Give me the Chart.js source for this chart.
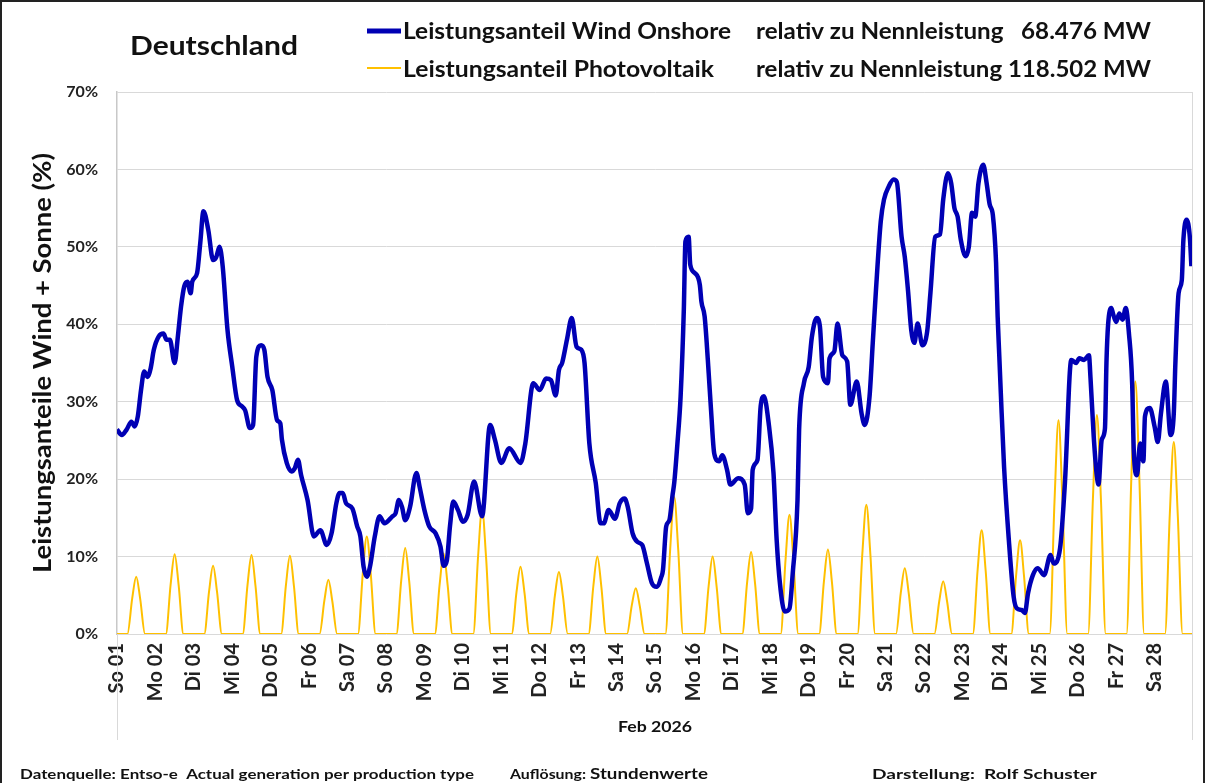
<!DOCTYPE html>
<html><head><meta charset="utf-8">
<script src="https://cdn.jsdelivr.net/npm/chart.js@4.4.1/dist/chart.umd.min.js"></script>
<style>html,body{margin:0;padding:0;background:#fff}#wrap{width:1205px;height:783px;position:relative}</style>
</head><body><div id="wrap"><canvas id="c" width="1205" height="783"></canvas></div>
<script>
const dayLabels = ['So 01','Mo 02','Di 03','Mi 04','Do 05','Fr 06','Sa 07','So 08','Mo 09','Di 10','Mi 11','Do 12','Fr 13','Sa 14','So 15','Mo 16','Di 17','Mi 18','Do 19','Fr 20','Sa 21','So 22','Mo 23','Di 24','Mi 25','Do 26','Fr 27','Sa 28'];
const yTicks = [0,10,20,30,40,50,60,70];

// Wind onshore share (%), hour of month -> value
const windHour = [0,3,6,9,11,13,15,17,19,21,23,26,29,31,33,36,38,40,42,44,46,47,50,52,54,57,60,62,64,66,69,72,75,78,80,83,85,87,90,92,94,97,100,102,103,106,109,111,113,115,119,123,127,131,134,137,139,141,143,147,150,152,154,156,158,161,164,167,172,174,176,178,180,183,187,189,192,195,199,202,204,206,208,210,213,216,219,223,228,233,236,240,245,252,255,260,264,268,271,274,276,278,281,284,287,290,292,295,299,302,304,307,311,314,317,319,322,325,328,331,334,337,340,341,343,345,347,348,350,352,354,355,357,358,361,364,365,367,369,371,373,376,378,381,383,388,392,394,396,397,400,402,404,407,410,412,414,417,420,422,425,426,429,432,434,437,439,441,444,445,448,450,453,456,458,462,465,467,470,472,474,477,479,482,485,487,490,492,494,496,498,500,503,506,508,511,514,516,519,521,523,525,527,530,532,534,536,538,541,543,545,547,549,550,551,552,554,557,560,562,565,567,569,572,575,579,583,585,589,592,596,599,601,604,607,608,610,612,613,615,617,618,619,621,622,624,626,628,630,632,634,635,637,639,641,642,645,648,650,652,655,658,660,661,663,665,666,668,670,671];
const windValue = [26.4,25.7,26.4,27.4,26.8,28.1,31.5,33.9,33.2,34.3,36.7,38.4,38.8,38.0,38.0,35.0,38.4,42.3,44.9,45.5,44.0,45.5,46.6,50.5,54.6,52.2,48.3,48.7,50.0,47.5,39.3,34.5,30.2,29.4,28.9,26.6,27.0,35.8,37.3,36.7,33.2,31.5,27.6,27.2,25.1,22.1,21.0,21.4,22.5,20.5,17.3,12.6,13.4,11.5,13.0,16.9,18.2,18.2,16.9,16.2,13.9,12.6,8.7,7.4,8.7,12.6,15.2,14.3,15.2,15.6,17.3,16.4,14.7,16.4,20.8,19.0,16.0,13.9,13.0,11.3,8.8,9.5,14.0,17.1,16.0,14.5,15.4,19.7,15.2,27.0,25.1,22.1,24.0,22.1,24.6,32.4,31.5,33.0,32.8,30.8,34.1,35.0,38.0,40.8,37.1,36.7,35.0,24.6,19.5,14.3,14.3,16.0,14.9,16.9,17.5,16.4,13.0,11.9,11.5,9.1,6.6,6.1,7.4,8.3,13.9,14.7,18.0,19.5,24.6,30.7,41.9,50.7,51.3,47.7,46.6,45.1,42.9,41.0,35.4,28.9,23.3,22.3,23.1,21.2,19.3,20.1,19.3,15.6,16.2,21.2,22.5,29.4,30.7,27.2,20.8,12.1,6.6,2.9,3.3,7.8,17.3,26.4,32.4,34.5,38.4,40.8,39.7,33.2,32.4,35.6,36.5,40.1,36.0,35.2,29.6,32.6,28.5,27.0,30.7,37.6,44.4,53.3,56.1,57.8,58.7,58.4,51.3,48.7,44.4,39.3,37.6,40.1,37.3,39.1,44.0,51.3,51.6,56.1,59.5,58.2,55.0,53.9,50.9,48.8,50.0,54.4,53.9,58.2,60.6,58.4,55.5,54.1,48.0,41.0,36.0,31.0,21.6,12.1,4.8,3.3,3.1,2.7,5.3,7.6,8.5,7.6,10.2,9.1,11.1,19.5,35.4,35.0,35.6,35.4,36.0,33.0,25.5,20.3,19.3,25.1,26.5,35.4,40.0,42.1,41.4,40.3,41.4,40.6,42.1,38.8,32.4,23.8,20.5,24.6,22.3,28.1,29.2,26.8,24.8,28.5,32.6,25.7,28.5,35.0,44.0,45.7,50.9,53.5,51.3,47.5];

// Photovoltaic share (%): daily values at hours of the day
const solarHours = [6.5, 9.5, 12, 14.5, 17.5];
const solarMorning   = [4.6,6.4,5.5,6.3,6.3,4.3,7.8,6.9,6.4,10.0,5.4,5.0,6.2,3.7,11.0,6.2,6.6,9.5,6.8,10.4,5.3,4.2,8.3,7.5,17.1,17.5,20.2,15.4];
const solarNoon      = [7.4,10.3,8.8,10.2,10.1,7.0,12.6,11.1,10.4,16.2,8.7,8.0,10.0,5.9,17.7,10.0,10.6,15.4,10.9,16.7,8.5,6.8,13.4,12.1,27.6,28.3,32.6,24.8];
const solarAfternoon = [4.5,6.3,5.4,6.2,6.2,4.2,7.7,6.8,6.3,9.9,5.3,4.9,6.1,3.6,10.9,6.1,6.5,9.4,6.7,10.3,5.2,4.1,8.2,7.4,17.0,17.4,20.1,15.3];

const windData = windHour.map((h,i)=>({x:h,y:windValue[i]}));
const solarData = [{x:0,y:0}];
solarNoon.forEach((p,d)=>{
  const vals=[0,solarMorning[d],p,solarAfternoon[d],0];
  solarHours.forEach((h,k)=>solarData.push({x:d*24+h,y:vals[k]}));
});
solarData.push({x:672,y:0});

const FONT='Lato';
function fitText(ctx,text,x,y,w,size,weight,align){
  ctx.font=`${weight} ${size}px ${FONT}`;
  const m=ctx.measureText(text).width;
  const sx=w/m;
  ctx.save();ctx.translate(x,y);ctx.scale(sx,1);
  ctx.textAlign='left';
  let ox=0; if(align==='center') ox=-m/2;
  ctx.fillText(text,ox,0);ctx.restore();
}
const deco={
  id:'deco',
  beforeDraw(chart){const c=chart.ctx;c.save();c.fillStyle='#fff';c.fillRect(0,0,chart.width,chart.height);c.restore();},
  afterDraw(chart){
    const c=chart.ctx;const a=chart.chartArea;
    c.save();
    c.fillStyle='#111';c.textBaseline='alphabetic';
    fitText(c,'Deutschland',130,55,168,27,'bold');
    c.lineCap='butt';
    c.strokeStyle='#0000B4';c.lineWidth=5;c.beginPath();c.moveTo(367,31);c.lineTo(401,31);c.stroke();
    c.strokeStyle='#FFC000';c.lineWidth=2;c.beginPath();c.moveTo(367,68);c.lineTo(401,68);c.stroke();
    fitText(c,'Leistungsanteil Wind Onshore',403,39,328,22,'bold');
    fitText(c,'relativ zu Nennleistung   68.476 MW',756,39,395,22,'bold');
    fitText(c,'Leistungsanteil Photovoltaik',403,77,311,22,'bold');
    fitText(c,'relativ zu Nennleistung 118.502 MW',756,77,395,22,'bold');
    c.save();c.translate(51,363);c.rotate(-Math.PI/2);
    fitText(c,'Leistungsanteile Wind + Sonne (%)',0,0,420,24,'bold','center');
    c.restore();
    fitText(c,'Feb 2026',618,732,74,15,'bold');
    c.strokeStyle='#d9d9d9';c.lineWidth=1;
    c.beginPath();c.moveTo(a.left+0.5,a.bottom);c.lineTo(a.left+0.5,740);c.moveTo(a.right-0.5,a.top);c.lineTo(a.right-0.5,740);c.stroke();
    c.fillStyle='#111';
    fitText(c,'Datenquelle: Entso-e  Actual generation per production type',20,779,454,14,'bold');
    fitText(c,'Auflösung:',510,779,76,14,'bold');
    fitText(c,'Stundenwerte',590,779,118,16,'bold');
    fitText(c,'Darstellung:  Rolf Schuster',872,779,225,14,'bold');
    c.strokeStyle='#222';c.lineWidth=2;c.strokeRect(1,1,1203,790);
    c.restore();
  }
};

Chart.defaults.font.family=FONT;
new Chart(document.getElementById('c'),{
  type:'line',
  data:{datasets:[
    {label:'Wind Onshore',data:windData,borderColor:'#0000B4',borderWidth:4.5,pointRadius:0,cubicInterpolationMode:'monotone',order:0},
    {label:'Photovoltaik',data:solarData,borderColor:'#FFC000',borderWidth:2,pointRadius:0,cubicInterpolationMode:'monotone',order:1}
  ]},
  options:{
    responsive:false,animation:false,devicePixelRatio:1,
    layout:{padding:{left:0,top:92,right:12,bottom:0}},
    plugins:{legend:{display:false},tooltip:{enabled:false},title:{display:false}},
    scales:{
      x:{type:'linear',min:0,max:672,
        afterBuildTicks:s=>{s.ticks=dayLabels.map((_,i)=>({value:i*24}));},
        afterFit:s=>{s.height=149;},
        ticks:{autoSkip:false,maxRotation:90,minRotation:90,padding:9,color:'#222',font:{size:20,weight:'bold'},callback:v=>dayLabels[Math.round(v/24)]||''},
        grid:{display:false,drawTicks:false},border:{display:false}},
      y:{min:0,max:70,
        afterBuildTicks:s=>{s.ticks=yTicks.map(v=>({value:v}));},
        afterFit:s=>{s.width=117;},
        ticks:{padding:19,color:'#222',font:{size:16,weight:'bold'},callback:v=>v+'%'},
        grid:{color:'#d9d9d9',lineWidth:1,drawTicks:false},
        border:{display:true,color:'#c8c8c8',width:1.5}}
    }
  },
  plugins:[deco]
});
</script></body></html>
